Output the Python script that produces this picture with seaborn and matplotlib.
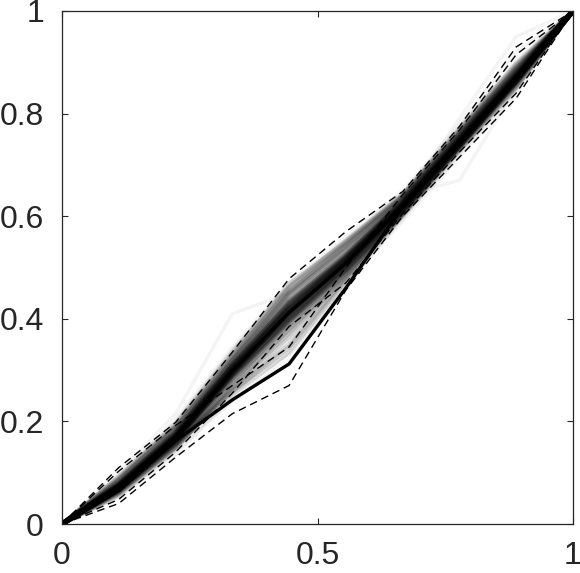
import numpy as np
import pandas as pd
import matplotlib
matplotlib.use("Agg")
import matplotlib.pyplot as plt
import seaborn as sns

# grid of the curves (10 points, 0..1)
x_vals = [0, 1/9, 2/9, 3/9, 4/9, 5/9, 6/9, 7/9, 8/9, 1]

# the two solid curves
main_curve = [0, 0.072, 0.168, 0.298, 0.412, 0.508, 0.620, 0.745, 0.870, 1]
lower_curve = [0, 0.065, 0.162, 0.242, 0.312, 0.460, 0.618, 0.745, 0.870, 1]

# dashed bands
band_main_up = [0, 0.110, 0.198, 0.335, 0.478, 0.570, 0.648, 0.775, 0.930, 1]
band_main_lo = [0, 0.048, 0.140, 0.255, 0.385, 0.470, 0.605, 0.725, 0.840, 1]
band_low_up = [0, 0.103, 0.192, 0.270, 0.345, 0.500, 0.642, 0.768, 0.915, 1]
band_low_lo = [0, 0.040, 0.130, 0.215, 0.270, 0.456, 0.600, 0.715, 0.830, 1]

# gray sample curves (interior points only, ends are 0 and 1)
# tight runs around the main curve
gray_core = [
    [.072, .168, .298, .410, .508, .620, .745, .870],
    [.070, .165, .294, .405, .504, .617, .742, .867],
    [.074, .171, .302, .416, .512, .623, .748, .873],
    [.069, .163, .291, .400, .500, .615, .740, .865],
    [.075, .173, .305, .420, .516, .625, .750, .875],
    [.071, .166, .296, .412, .510, .619, .744, .869],
    [.073, .170, .300, .418, .514, .622, .747, .872],
    [.068, .162, .289, .398, .498, .614, .739, .864],
    [.076, .175, .308, .425, .520, .627, .752, .877],
    [.070, .167, .297, .408, .506, .618, .743, .868],
    [.074, .169, .303, .422, .518, .621, .746, .871],
    [.067, .160, .286, .395, .496, .612, .737, .862],
    [.077, .177, .310, .430, .522, .628, .754, .879],
    [.072, .164, .293, .414, .509, .616, .741, .866],
    [.073, .172, .306, .428, .519, .624, .749, .874],
    [.066, .158, .283, .390, .494, .611, .736, .861],
    [.078, .179, .312, .435, .526, .630, .756, .881],
    [.071, .169, .299, .419, .513, .620, .746, .870],
    [.069, .164, .290, .403, .502, .616, .741, .866],
    [.075, .174, .307, .432, .524, .626, .751, .876],
]
# wider runs, some following the lower curve
gray_mid = [
    [.080, .182, .318, .440, .532, .632, .758, .884],
    [.084, .186, .322, .450, .540, .636, .762, .888],
    [.064, .155, .278, .385, .490, .608, .733, .857],
    [.088, .190, .328, .455, .545, .640, .766, .892],
    [.062, .152, .272, .378, .486, .606, .730, .854],
    [.082, .180, .315, .445, .538, .634, .760, .886],
    [.079, .176, .320, .448, .535, .630, .757, .883],
    [.060, .150, .260, .350, .480, .605, .735, .860],
    [.063, .155, .252, .335, .472, .602, .736, .863],
    [.065, .158, .262, .365, .485, .609, .738, .864],
    [.086, .188, .325, .460, .548, .638, .764, .890],
    [.058, .148, .268, .380, .488, .600, .728, .852],
    [.092, .195, .335, .462, .552, .642, .768, .895],
    [.056, .145, .275, .395, .495, .603, .727, .850],
    [.090, .192, .330, .468, .550, .641, .770, .898],
    [.061, .150, .265, .372, .482, .604, .732, .856],
    [.085, .188, .318, .452, .542, .637, .761, .887],
    [.067, .157, .258, .345, .475, .606, .737, .862],
]
# faint outliers
gray_outer = [
    [.095, .200, .340, .465, .555, .645, .775, .905],
    [.100, .215, .410, .450, .550, .640, .770, .895],
    [.072, .165, .295, .415, .510, .640, .670, .850],
    [.070, .162, .290, .410, .505, .630, .790, .950],
    [.055, .140, .240, .330, .465, .595, .720, .845],
    [.090, .205, .345, .470, .560, .650, .780, .920],
    [.050, .135, .250, .360, .475, .590, .715, .840],
    [.060, .150, .240, .320, .460, .600, .740, .870],
]

x_ticks = [0, 0.5, 1]
y_ticks = [0, 0.2, 0.4, 0.6, 0.8, 1]
x_tick_labels = ["0", "0.5", "1"]
y_tick_labels = ["0", "0.2", "0.4", "0.6", "0.8", "1"]


def runs_to_df(runs):
    rows = []
    for i, run in enumerate(runs):
        ys = [0] + run + [1]
        for xv, yv in zip(x_vals, ys):
            rows.append({"run": i, "x": xv, "y": yv})
    return pd.DataFrame(rows)


def main():
    sns.set_style("white")
    plt.rcParams['font.family'] = ['Liberation Sans', 'DejaVu Sans']

    fig = plt.figure(figsize=(5.8, 5.73), dpi=100)
    ax = fig.add_axes([62 / 580, 49 / 573, 511 / 580, 513 / 573])

    # gray sample curves
    for runs, a, w in [(gray_outer, 0.045, 2.5), (gray_mid, 0.15, 3.2),
                       (gray_core, 0.26, 3.6)]:
        sns.lineplot(data=runs_to_df(runs), x="x", y="y", units="run",
                     estimator=None, color="black", alpha=a, lw=w,
                     ax=ax, legend=False)

    # dashed bands
    for band in [band_main_up, band_main_lo, band_low_up, band_low_lo]:
        sns.lineplot(x=x_vals, y=band, color="black", lw=1.0,
                     linestyle=(0, (5.5, 3.5)), ax=ax)

    # solid curves
    sns.lineplot(x=x_vals, y=main_curve, color="black", lw=2.4, ax=ax)
    sns.lineplot(x=x_vals, y=lower_curve, color="black", lw=2.4, ax=ax)

    ax.set_xlim(0, 1)
    ax.set_ylim(0, 1)
    ax.set_xticks(x_ticks)
    ax.set_xticklabels(x_tick_labels)
    ax.set_yticks(y_ticks)
    ax.set_yticklabels(y_tick_labels)
    ax.set_xlabel("")
    ax.set_ylabel("")
    ax.tick_params(direction="in", length=4, width=0.8, colors="#262626",
                   labelsize=23, top=True, right=True,
                   bottom=True, left=True)
    ax.tick_params(axis="x", pad=12)
    ax.tick_params(axis="y", pad=13)
    for sp in ax.spines.values():
        sp.set_visible(True)
        sp.set_color("#262626")
        sp.set_linewidth(0.9)

    fig.savefig("out.png", dpi=100)


if __name__ == "__main__":
    main()
